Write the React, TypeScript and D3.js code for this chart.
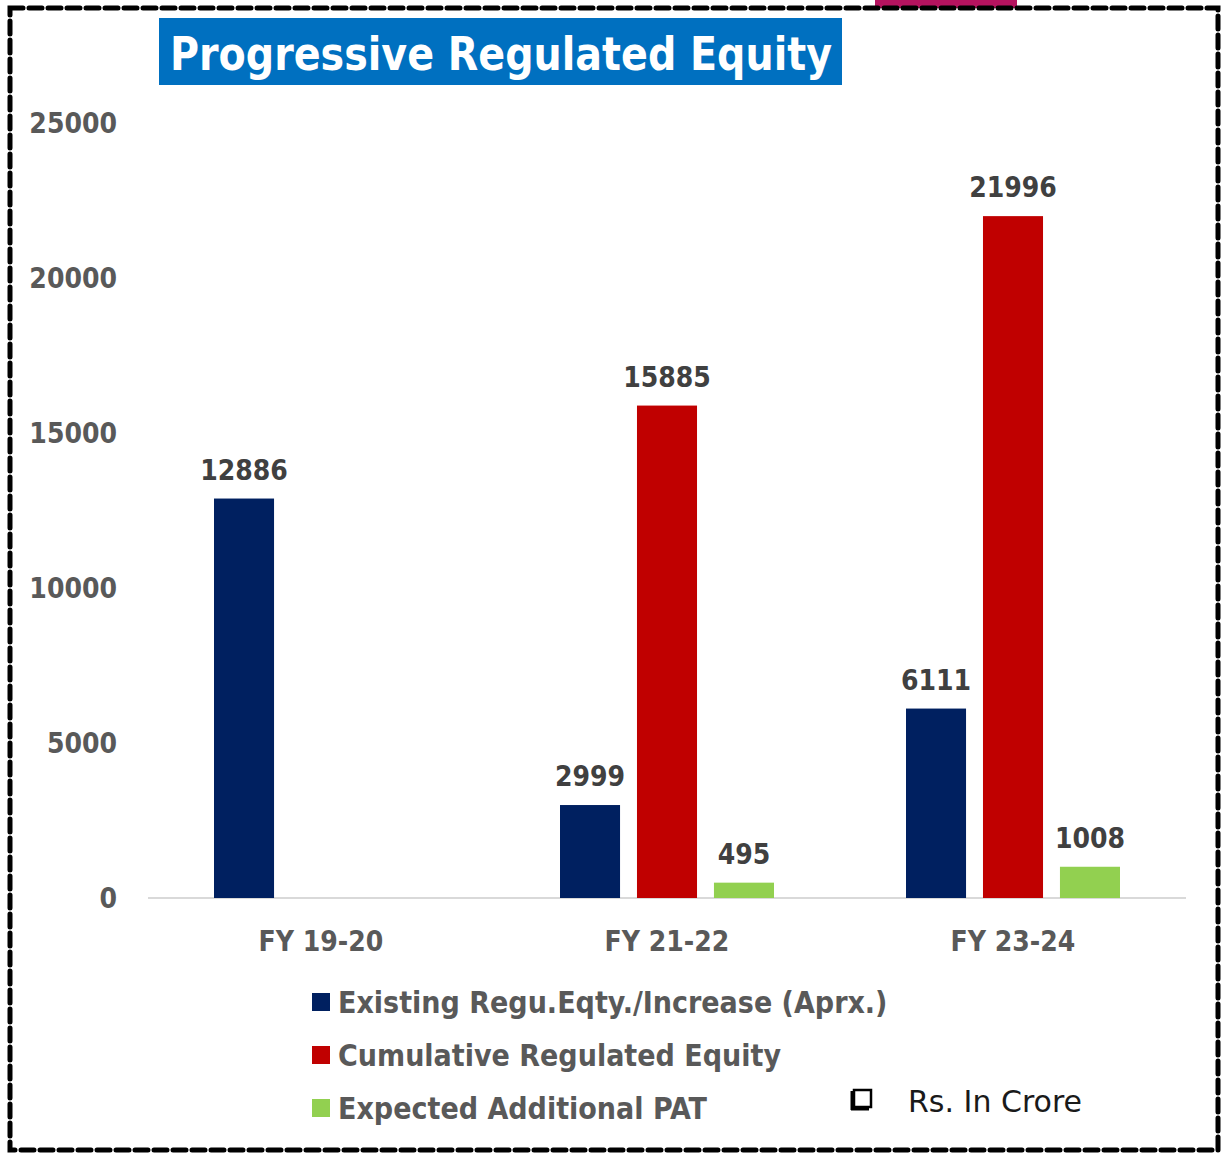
import React from 'react';
import * as d3 from 'd3';

// Rs. In Crore
const categories = ['FY 19-20', 'FY 21-22', 'FY 23-24'];
const seriesNames = [
  'Existing Regu.Eqty./Increase (Aprx.)',
  'Cumulative Regulated Equity',
  'Expected Additional PAT',
];
const existingEquity = [12886, 2999, 6111];
const cumulativeEquity = [null, 15885, 21996];
const additionalPat = [null, 495, 1008];
const yTicks = [0, 5000, 10000, 15000, 20000, 25000];

const colors = ['#002060', '#C00000', '#92D050'];
const font = "'Century Gothic', 'DejaVu Sans Condensed', 'DejaVu Sans', sans-serif";
const plainFont = "'Century Gothic', 'DejaVu Sans', sans-serif";

const W = 1229;
const H = 1154;
const margin = { top: 123, left: 148, right: 43, bottom: 256 };

const App = () => {
  const innerBottom = H - margin.bottom; // 898
  const x = d3.scaleBand<string>()
    .domain(categories)
    .range([margin.left, W - margin.right]);

  const y = d3.scaleLinear()
    .domain([0, 25000])
    .range([innerBottom, margin.top]);

  const inner = d3.scaleBand<number>()
    .domain([0, 1, 2])
    .range([0, 214])
    .paddingInner(0.22);

  const series = [existingEquity, cumulativeEquity, additionalPat];

  return (
    <svg width={W} height={H} style={{ position: 'absolute', left: 0, top: 0 }}>
      <rect x={0} y={0} width={W} height={H} fill="#fff" />
      {/* pink tab peeking from above */}
      <rect x={875} y={-10} width={142} height={18} fill="#B5135F" />
      {/* dashed frame */}
      <rect x={10} y={8} width={1208} height={1142} fill="none"
        stroke="#000" strokeWidth={5} strokeDasharray="13 6" strokeLinecap="round" />

      {/* title */}
      <rect x={159} y={18} width={683} height={67} fill="#0070C0" />
      <text x={501} y={70} textAnchor="middle" fill="#fff" fontFamily={font}
        fontWeight="bold" fontSize={46} textLength={662} lengthAdjust="spacingAndGlyphs">
        Progressive Regulated Equity
      </text>

      {/* y axis labels */}
      {yTicks.map(t => (
        <text key={t} x={117} y={y(t)} dy="0.35em" textAnchor="end" fill="#595959"
          fontFamily={font} fontWeight="bold" fontSize={28}>{t}</text>
      ))}

      {/* baseline */}
      <line x1={margin.left} x2={W - margin.right} y1={y(0)} y2={y(0)} stroke="#D9D9D9" strokeWidth={2} />

      {/* bars */}
      {categories.map((c, ci) => {
        const gx = (x(c) as number) + x.bandwidth() / 2 - 107;
        return (
          <g key={c}>
            {series.map((s, si) => {
              const v = s[ci];
              if (v == null) return null;
              const bx = gx + (inner(si) as number);
              return (
                <g key={si}>
                  <rect x={bx} y={y(v)} width={inner.bandwidth()} height={y(0) - y(v)} fill={colors[si]} />
                  <text x={bx + inner.bandwidth() / 2} y={y(v) - 19} textAnchor="middle"
                    fill="#404040" fontFamily={font} fontWeight="bold" fontSize={28}>{v}</text>
                </g>
              );
            })}
            <text x={(x(c) as number) + x.bandwidth() / 2} y={951} textAnchor="middle"
              fill="#595959" fontFamily={font} fontWeight="bold" fontSize={28}>{c}</text>
          </g>
        );
      })}

      {/* legend */}
      {seriesNames.map((n, i) => (
        <g key={n} transform={`translate(312, ${1002 + i * 53})`}>
          <rect x={0} y={-9} width={18} height={18} fill={colors[i]} />
          <text x={26} y={0} dy="0.35em" fill="#595959" fontFamily={font}
            fontWeight="bold" fontSize={30}>{n}</text>
        </g>
      ))}

      {/* unit note */}
      <rect x={854} y={1090} width={17} height={17} fill="none" stroke="#000" strokeWidth={2.5} />
      <line x1={851} x2={869} y1={1109} y2={1109} stroke="#000" strokeWidth={3} />
      <line x1={852} x2={852} y1={1091} y2={1110} stroke="#000" strokeWidth={3} />
      <text x={908} y={1101} dy="0.35em" fill="#1A1A1A" fontFamily={plainFont} fontSize={30}>Rs. In Crore</text>
    </svg>
  );
};

export default App;
